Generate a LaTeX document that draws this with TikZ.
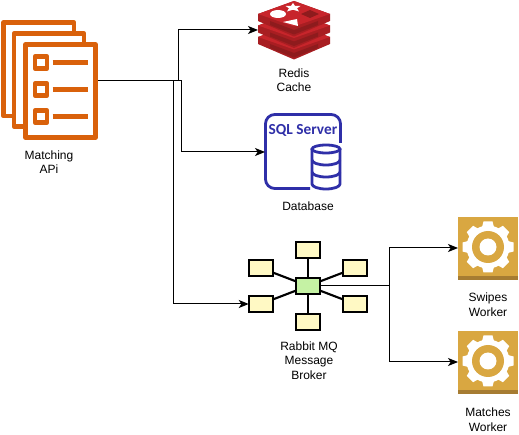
\documentclass[tikz,border=0pt]{standalone}
\usepackage{fontspec}
\setmainfont{Liberation Sans}
\newfontfamily\sqlfont{Carlito}
\usetikzlibrary{arrows.meta,shapes.geometric}
\definecolor{apiorange}{HTML}{D9610B}
\definecolor{redisA}{HTML}{C7252B}
\definecolor{redisB}{HTML}{8E1B1D}
\definecolor{redisC}{HTML}{A81E22}
\definecolor{sqlblue}{HTML}{2F2FA8}
\definecolor{workertan}{HTML}{D9A741}
\definecolor{workerdark}{HTML}{A67C32}
\definecolor{msgyellow}{HTML}{FFF9C4}
\definecolor{msggreen}{HTML}{C5F2A4}
\tikzset{
  x=0.75pt,y=-0.75pt,
  conn/.style={draw=black,line width=0.75pt,-{Stealth[length=7.5pt,width=6pt,inset=2pt]}},
  plain/.style={draw=black,line width=0.75pt},
  label/.style={align=center,font=\fontsize{9}{10.9}\selectfont,inner sep=0pt,text=black},
  slot/.style={minimum width=0pt,minimum height=0pt,inner sep=0pt,outer sep=0pt},
  msg/.style={draw=black,line width=1.6pt,fill=msgyellow,minimum width=18.4pt,minimum height=12.4pt,inner sep=0pt,outer sep=0pt},
  hub/.style={draw=black,line width=1.6pt,fill=msggreen,minimum width=18.4pt,minimum height=12.4pt,inner sep=0pt,outer sep=0pt},
  spoke/.style={draw=black,line width=1.6pt},
  sheet/.style={draw=apiorange,line width=3.5pt,line join=round},
  sqlline/.style={draw=sqlblue,line width=2.1pt},
  workericon/.pic={
    \fill[workertan] (-30,-30) rectangle (30,33);
    \fill[workerdark] (-30,29) rectangle (30,33);
    \foreach \a in {0,45,...,315}{
      \fill[white,rotate=\a] (-4.5,-25.5) -- (4.5,-25.5) -- (6.5,-18) -- (-6.5,-18) -- cycle;
    }
    \fill[white] (0,0) circle[radius=21.5];
    \fill[workertan] (0,0) circle[radius=16];
    \fill[white] (0,0) circle[radius=8.5];
  }
}
\begin{document}
\begin{tikzpicture}
\useasboundingbox (0,0) rectangle (519,435);
\fill[white] (0,0) rectangle (519,435);

% Matching API icon
\draw[sheet] (74,31) -- (74,22.5) -- (3.5,22.5) -- (3.5,116) -- (13,116);
\draw[sheet] (84,42) -- (84,33.5) -- (14,33.5) -- (14,126.5) -- (25,126.5);
\draw[sheet,fill=white] (25.5,44.5) rectangle (95.5,137.5);
\foreach \yy in {62.5,89.5,116.5}{
  \draw[draw=apiorange,line width=3.5pt,line join=round] (35,\yy-6) rectangle (47,\yy+6);
  \draw[draw=apiorange,line width=3.7pt] (52.5,\yy) -- (87.5,\yy);
}
\node[slot,minimum width=73.5pt,minimum height=90pt] (api) at (49,80.5) {};
\node[label] (apilabel) at (49,162) {Matching\\APi};

% Redis icon
\foreach \off in {23,11.5,0}{
  \fill[redisC] (258,14+\off) -- (294,1+\off) -- (330,14+\off) -- (330,21+\off) -- (294,36.5+\off) -- (258,21+\off) -- cycle;
  \fill[redisB] (270,21+\off) -- (294,30+\off) -- (318,21+\off) -- (318,25+\off) -- (294,34.5+\off) -- (270,25+\off) -- cycle;
  \fill[redisA] (258,14+\off) -- (294,1+\off) -- (330,14+\off) -- (294,26.5+\off) -- cycle;
}
\fill[white] (278,14) ellipse[x radius=8,y radius=4];
\fill[white] (293,3) -- (295,6) -- (300.5,6) -- (297,8.3) -- (299,11.5) -- (293,9.7) -- (287,11.5) -- (289,8.3) -- (285.5,6) -- (291,6) -- cycle;
\fill[white] (283,22) -- (298,26) -- (297,19) -- cycle;
\fill[redisB] (301,14) -- (310,10) -- (319,14) -- (310,18) -- cycle;
\node[slot,minimum width=54pt,minimum height=45pt] (redis) at (294,30) {};
\node[label] (redislabel) at (294,80) {Redis\\Cache};

% SQL Server icon
\draw[sqlline,rounded corners=7pt] (340.5,143) -- (340.5,114.5) -- (265.5,114.5) -- (265.5,188.5) -- (310,188.5);
\node[slot] (sqltext) at (303,130) {\sqlfont\bfseries\fontsize{11.5}{12}\selectfont\textcolor{sqlblue}{SQL Server}};
\draw[sqlline,fill=white] (312,149) -- (312,184) arc[start angle=180,end angle=360,x radius=14,y radius=-5] -- (340,149);
\draw[sqlline,fill=white] (326,149) ellipse[x radius=14,y radius=4];
\draw[sqlline] (312,160) arc[start angle=180,end angle=360,x radius=14,y radius=-5];
\draw[sqlline] (312,172) arc[start angle=180,end angle=360,x radius=14,y radius=-5];
\node[slot,minimum width=57pt,minimum height=57pt] (sql) at (303,152) {};
\node[label] (sqllabel) at (308,206) {Database};

% Rabbit MQ
\node[hub] (mqhub) at (308,286) {};
\node[msg] (mqtop) at (308,250) {};
\node[msg] (mqbottom) at (308,322) {};
\node[msg] (mqlu) at (261,268) {};
\node[msg] (mqld) at (261,304) {};
\node[msg] (mqru) at (355,268) {};
\node[msg] (mqrd) at (355,304) {};
\foreach \t in {mqtop,mqbottom,mqlu,mqld,mqru,mqrd}{
  \draw[spoke] (mqhub) -- (\t);
}
\node[label] (mqlabel) at (309,360.5) {Rabbit MQ\\Message\\Broker};

% Workers
\pic at (488,247) {workericon};
\pic at (488,361) {workericon};
\node[slot,minimum width=45pt,minimum height=47pt] (swipes) at (488,248) {};
\node[slot,minimum width=45pt,minimum height=47pt] (matches) at (488,362) {};
\node[label] (swipeslabel) at (488,304.5) {Swipes\\Worker};
\node[label] (matcheslabel) at (488,419.5) {Matches\\Worker};

% Connectors
\coordinate (busa) at (178,80.5);
\coordinate (busb) at (181,80.5);
\coordinate (busc) at (173,80.5);
\coordinate (fork) at (389,286);
\draw[conn] (api.east) -- (busa) |- (redis.west);
\draw[conn] (api.east) -- (busb) |- (sql.west);
\draw[conn] (busc) |- (mqld.west);
\draw[plain] (mqhub.east) -- (fork);
\draw[conn] (fork) |- (swipes.west);
\draw[conn] (fork) |- (matches.west);
\end{tikzpicture}
\end{document}
